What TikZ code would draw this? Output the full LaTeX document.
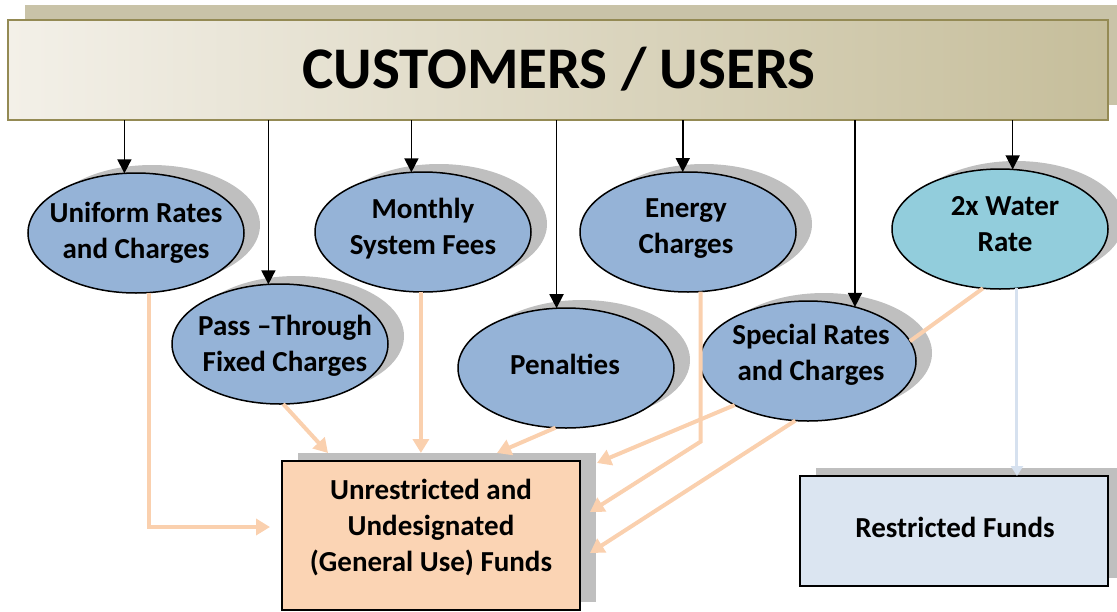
\documentclass[tikz,border=0pt]{standalone}
\usepackage{fontspec}
\setmainfont{Carlito}
\usetikzlibrary{shapes.geometric,shadows,arrows.meta,calc}
\definecolor{ellblue}{HTML}{95B3D7}
\definecolor{waterc}{HTML}{92CDDC}
\definecolor{shadowgray}{HTML}{BFBFBF}
\definecolor{peach}{HTML}{FBD4B4}
\definecolor{orangeline}{HTML}{FAD0AE}
\definecolor{restr}{HTML}{DBE5F1}
\definecolor{restrline}{HTML}{D6E1EF}
\definecolor{bannerborder}{HTML}{948A54}
\definecolor{bannershadow}{HTML}{C9C3A8}
\definecolor{bannerL}{HTML}{F3F0E8}
\definecolor{bannerM}{HTML}{E0DBC8}
\definecolor{bannerR}{HTML}{C6BE9B}
\begin{document}
\begin{tikzpicture}[x=1pt,y=-1pt,
  ell/.style={ellipse, draw=black, line width=1.5pt, fill=ellblue,
    minimum width=216pt, minimum height=120pt, inner sep=0pt, outer sep=0pt,
    drop shadow={shadow xshift=16pt, shadow yshift=8pt, fill=shadowgray, opacity=1}},
  fundbox/.style={rectangle, draw=black, line width=2pt, inner sep=0pt, outer sep=0pt,
    drop shadow={shadow xshift=16pt, shadow yshift=8pt, fill=shadowgray, opacity=1}},
  lbl/.style={font=\fontsize{29}{36}\selectfont\bfseries, align=center, inner sep=0pt},
  blk/.style={draw=black, line width=1.6pt, -{Triangle[length=14pt,width=14pt]}},
  org/.style={draw=orangeline, line width=4pt, -{Triangle[length=14pt,width=16pt]}},
]
\useasboundingbox (0,0) rectangle (1117,611);

% banner
\node[draw=bannerborder, line width=2.5pt, minimum width=1100pt, minimum height=100pt,
  inner sep=0pt, outer sep=0pt,
  left color=bannerL, middle color=bannerM, right color=bannerR,
  drop shadow={shadow xshift=17pt, shadow yshift=15pt, fill=bannershadow, opacity=1}]
  (banner) at (558,70) {};
\node[font=\fontsize{59}{72}\selectfont\bfseries, anchor=base, inner sep=0pt]
  (bannertext) at (559,88) {CUSTOMERS / USERS};

% ellipses
\node[ell] (u) at (136,233) {};
\node[lbl] (ut) at (136,233) {Uniform Rates\\and Charges};
\node[ell] (m) at (423,232) {};
\node[lbl] (mt) at (423,229) {Monthly\\System Fees};
\node[ell] (e) at (688,232) {};
\node[lbl] (et) at (686,229) {Energy\\Charges};
\node[ell, fill=waterc] (w) at (1000,229) {};
\node[lbl] (wt) at (1005,224) {2x Water\\Rate};
\node[ell] (p) at (280,344) {};
\node[lbl] (pt) at (285,346) {Pass --Through\\Fixed Charges};
\node[ell] (pe) at (566,368) {};
\node[lbl] (pet) at (565,364) {Penalties};
\node[ell] (s) at (808,361) {};
\node[lbl] (st) at (811,355) {Special Rates\\and Charges};

% boxes
\node[fundbox, fill=peach, minimum width=298pt, minimum height=149pt] (un) at (431,535.5) {};
\node[lbl] (unt) at (431,528) {Unrestricted and\\Undesignated\\(General Use) Funds};
\node[fundbox, fill=restr, minimum width=308pt, minimum height=110pt] (r) at (954,531) {};
\node[lbl] (rt) at (955,527) {Restricted Funds};

% black arrows from banner
\draw[blk] (banner.south -| u.101.4) -- (u.101.4);
\draw[blk] (banner.south -| p.101.5) -- (p.101.5);
\draw[blk] (banner.south -| m.101.5) -- (m.101.5);
\draw[blk] (banner.south -| pe.99.5) -- (pe.99.5);
\draw[blk] (banner.south -| e.95.7) -- (e.95.7);
\draw[blk] (banner.south -| s.49) -- (s.49);
\draw[blk] (banner.south -| w.78.6) -- (w.78.6);

% orange connectors
\coordinate (tU) at (270,527);
\coordinate (tP) at (328,453);
\coordinate (tPe) at (497,453);
\coordinate (tS1) at (597,463);
\coordinate (tE) at (590,512);
\coordinate (tS2) at (590,553);
\draw[org] (u.-78.6) |- (tU);
\draw[org] (p.-87) -- (tP);
\draw[org] (m.-92.9) -- (m.-92.9 |- tP);
\draw[org] (pe.-100.5) -- (tPe);
\draw[org] (e.-78.6) -- ++(0,150) -- (tE);
\draw[org] (s.-149) -- (tS1);
\draw[org] (s.-102.3) -- (tS2);
\draw[draw=orangeline, line width=4pt] (w.-106) -- (s.11.7);

% to restricted funds
\draw[draw=restrline, line width=3pt, -{Triangle[length=10pt,width=12pt]}]
  (w.-74.9) -- (w.-74.9 |- r.north);
\end{tikzpicture}
\end{document}
